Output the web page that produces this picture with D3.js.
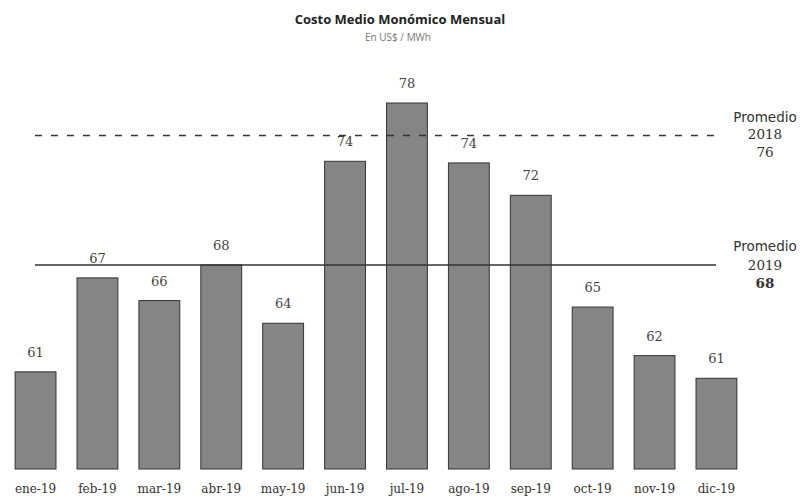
<!DOCTYPE html>
<html>
<head>
<meta charset="utf-8">
<title>Costo Medio Monómico Mensual</title>
<script src="https://d3js.org/d3.v7.min.js"></script>
<style>
  body { margin: 0; background: #fff; }
  svg { display: block; }
</style>
</head>
<body>
<div id="chart"></div>
<script>
/* global d3 */

const months = ['ene-19', 'feb-19', 'mar-19', 'abr-19', 'may-19', 'jun-19',
                'jul-19', 'ago-19', 'sep-19', 'oct-19', 'nov-19', 'dic-19'];
const costs = [61.4, 67.2, 65.8, 68.0, 64.4, 74.4, 78.0, 74.3, 72.3, 65.4, 62.4, 61.0];
const averages = [
  { year: '2018', value: 76, dashed: true },
  { year: '2019', value: 68, dashed: false }
];

const W = 803, H = 500;
const baseY = 469;

const svg = d3.select('#chart')
  .append('svg')
    .attr('width', W)
    .attr('height', H);

const xScale = d3.scaleBand()
  .domain(months)
  .range([4.6, 747.4])
  .paddingInner(0.34)
  .paddingOuter(0.17);

// axis does not start at zero in the original
const yScale = d3.scaleLinear()
  .domain([55.4, 78])
  .range([baseY, 103]);

// title
svg.append('text')
    .attr('x', 400).attr('y', 24)
    .attr('text-anchor', 'middle')
    .style('font-family', 'Open Sans, sans-serif')
    .style('font-size', '13px')
    .style('font-weight', 'bold')
    .style('fill', '#222')
    .text('Costo Medio Monómico Mensual');

svg.append('text')
    .attr('x', 398).attr('y', 41)
    .attr('text-anchor', 'middle')
    .style('font-family', 'Open Sans, sans-serif')
    .style('font-size', '10px')
    .style('fill', '#777')
    .text('En US$ / MWh');

// bars
svg.selectAll('rect.bar')
  .data(months)
  .enter()
  .append('rect')
    .attr('class', 'bar')
    .attr('x', d => xScale(d))
    .attr('width', xScale.bandwidth())
    .attr('y', (d, i) => yScale(costs[i]))
    .attr('height', (d, i) => baseY - yScale(costs[i]))
    .style('fill', '#858585')
    .style('stroke', '#333')
    .style('stroke-width', 1);

// value labels
svg.selectAll('text.val')
  .data(months)
  .enter()
  .append('text')
    .attr('class', 'val')
    .attr('x', d => xScale(d) + xScale.bandwidth() / 2)
    .attr('y', (d, i) => yScale(costs[i]) - 15)
    .attr('text-anchor', 'middle')
    .style('font-family', 'DejaVu Serif, serif')
    .style('font-size', '13px')
    .style('fill', '#444')
    .text((d, i) => Math.round(costs[i]));

// month axis
const xAxis = svg.append('g')
    .attr('transform', `translate(0, ${baseY + 12})`)
  .call(d3.axisBottom(xScale).tickSize(0));
xAxis.select('.domain').remove();
xAxis.selectAll('text')
    .style('font-family', 'DejaVu Serif, serif')
    .style('font-size', '12px')
    .style('fill', '#333');

// average lines
svg.selectAll('line.avg')
  .data(averages)
  .enter()
  .append('line')
    .attr('class', 'avg')
    .attr('x1', 35)
    .attr('x2', d => d.dashed ? 720 : 716)
    .attr('y1', d => yScale(d.value))
    .attr('y2', d => yScale(d.value))
    .style('stroke', '#333')
    .style('stroke-width', 1.5)
    .style('stroke-dasharray', d => d.dashed ? '7,9' : null);

// average labels
const avgLabels = svg.selectAll('g.avglab')
  .data(averages)
  .enter()
  .append('g')
    .attr('class', 'avglab')
    .attr('transform', d => `translate(765, ${yScale(d.value)})`)
    .style('font-family', 'DejaVu Serif, serif')
    .style('font-size', '13.5px')
    .style('fill', '#333')
    .attr('text-anchor', 'middle');

avgLabels.append('text')
    .attr('y', d => d.dashed ? -13 : -14)
    .style('font-family', 'DejaVu Sans, sans-serif')
    .text('Promedio');
avgLabels.append('text')
    .attr('y', d => d.dashed ? 4 : 5)
    .text(d => d.year);
avgLabels.append('text')
    .attr('y', d => d.dashed ? 22 : 23)
    .style('font-weight', d => d.dashed ? 'normal' : 'bold')
    .text(d => d.value);
</script>
</body>
</html>
